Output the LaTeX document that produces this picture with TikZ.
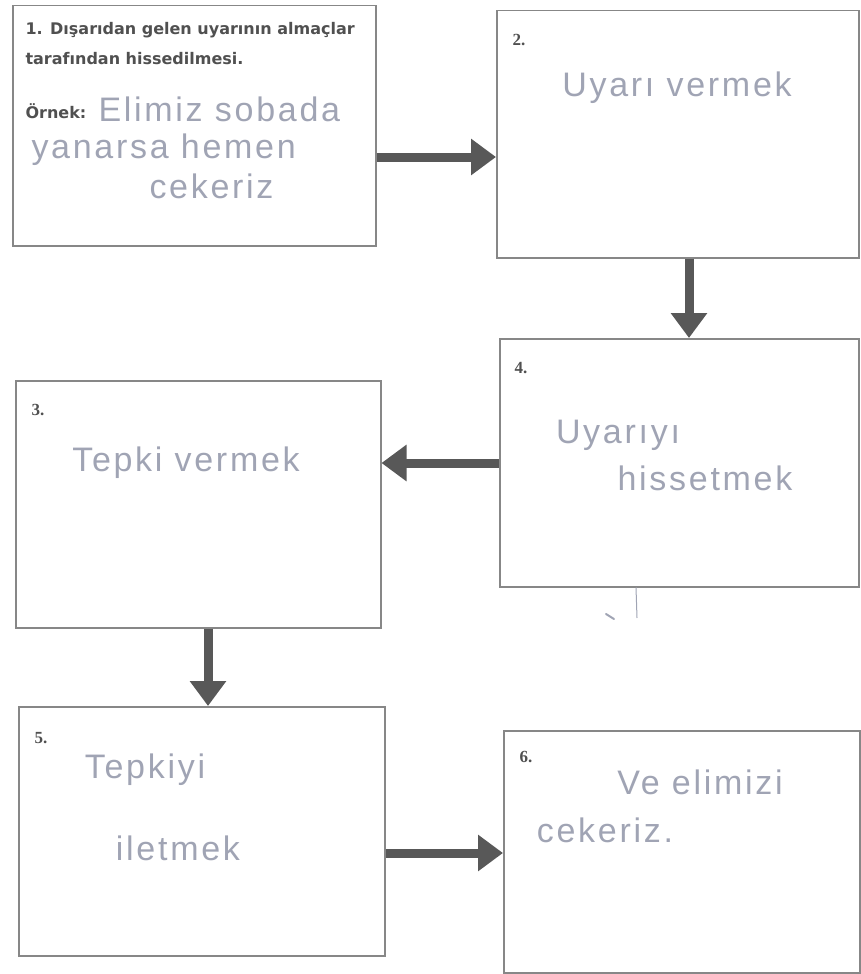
\documentclass[tikz,border=0pt]{standalone}
\usepackage{fontspec}
\setmainfont{Liberation Sans}
\newfontfamily\printfont{DejaVu Sans}
\newfontfamily\numfont{Liberation Serif}
\newfontfamily\handfont{Liberation Sans}[LetterSpace=8]
\usetikzlibrary{arrows.meta}
\definecolor{framegray}{RGB}{135,135,135}
\definecolor{arrowgray}{RGB}{88,88,88}
\definecolor{printgray}{RGB}{80,80,80}
\definecolor{inkgray}{RGB}{160,164,180}

\begin{document}
\begin{tikzpicture}[x=1pt,y=-1pt,
  box/.style={draw=framegray, line width=1.5pt, inner sep=0pt, anchor=north west},
  flow/.style={draw=arrowgray, line width=9pt, -{Triangle[length=25pt,width=35pt]}},
  hand/.style={text=inkgray, font=\handfont\fontsize{34}{38}\selectfont},
  numlbl/.style={text=printgray, font=\numfont\bfseries\fontsize{17}{19}\selectfont},
  printed/.style={text=printgray, anchor=west, font=\printfont\bfseries\fontsize{16}{19}\selectfont}]
\useasboundingbox (0,0) rectangle (860,974);
% boxes
\node[box, minimum width=363pt, minimum height=240pt] (box1) at (12,5) {};
\node[box, minimum width=362pt, minimum height=247pt] (box2) at (496,10) {};
\node[box, minimum width=359pt, minimum height=248pt] (box4) at (499,338) {};
\node[box, minimum width=365pt, minimum height=247pt] (box3) at (15,380) {};
\node[box, minimum width=366pt, minimum height=249pt] (box5) at (18,706) {};
\node[box, minimum width=356pt, minimum height=242pt] (box6) at (503,730) {};
% box 1
\node[printed] (p1) at (22,30) {1. Dışarıdan gelen uyarının almaçlar};
\node[printed] (p2) at (22,59) {tarafından hissedilmesi.};
\node[printed] (p3) at (22,111) {Örnek:};
\node[hand, anchor=west] (h1) at (95,109) {Elimiz sobada};
\node[hand, anchor=west] (h2) at (28,150) {yanarsa hemen};
\node[hand, anchor=west] (h3) at (146,186) {cekeriz};
% box 2
\node[numlbl] (n2) at (519,40) {2.};
\node[hand] (t2) at (677,88) {Uyarı vermek};
% box 4
\node[numlbl] (n4) at (521,368) {4.};
\node[hand] (t4a) at (618,435) {Uyarıyı};
\node[hand] (t4b) at (705,478) {hissetmek};
% box 3
\node[numlbl] (n3) at (38,410) {3.};
\node[hand] (t3) at (186,463) {Tepki vermek};
% box 5
\node[numlbl] (n5) at (41,738) {5.};
\node[hand] (t5a) at (145,770) {Tepkiyi};
\node[hand] (t5b) at (178,848) {iletmek};
% box 6
\node[numlbl] (n6) at (526,757) {6.};
\node[hand] (t6a) at (700,782) {Ve elimizi};
\node[hand] (t6b) at (605,830) {cekeriz.};
% arrows
\draw[flow] (box1.east |- 0,157) -- (box2.west |- 0,157);
\draw[flow] (box2.south -| 689,0) -- (box4.north -| 689,0);
\draw[flow] (box4.west |- 0,463) -- (box3.east |- 0,463);
\draw[flow] (box3.south -| 208,0) -- (box5.north -| 208,0);
\draw[flow] (box5.east |- 0,853) -- (box6.west |- 0,853);
% pencil marks under box 4
\draw[inkgray, line width=1pt] (box4.south -| 636,0) -- (637,618);
\draw[inkgray, line width=2pt, line cap=round] (606,614) -- (614,619);
\end{tikzpicture}
\end{document}
